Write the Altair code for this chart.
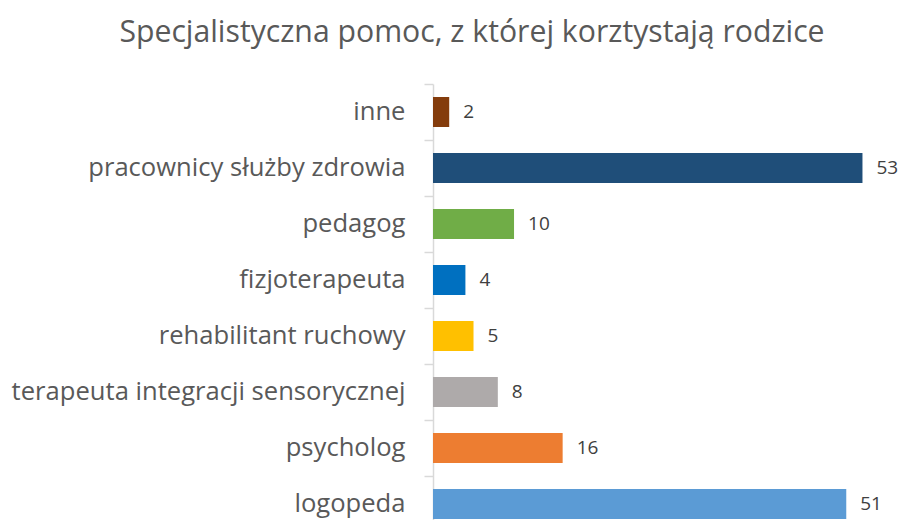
import altair as alt
import pandas as pd

categories = ["inne", "pracownicy służby zdrowia", "pedagog", "fizjoterapeuta",
              "rehabilitant ruchowy", "terapeuta integracji sensorycznej",
              "psycholog", "logopeda"]
values = [2, 53, 10, 4, 5, 8, 16, 51]
colors = ["#843C0C", "#1F4E79", "#70AD47", "#0070C0", "#FFC000", "#AEAAAA",
          "#ED7D31", "#5B9BD5"]

df = pd.DataFrame({"cat": categories, "val": values, "col": colors})

FONT = "Open Sans"

y = alt.Y("cat:N", sort=categories,
          scale=alt.Scale(paddingInner=0, paddingOuter=0, range=[0, 448]),
          axis=alt.Axis(title=None, bandPosition=0, domainColor="#D9D9D9",
                        domainWidth=1.5, tickColor="#D9D9D9", tickWidth=1.5,
                        tickSize=9, labelPadding=19, labelFont=FONT,
                        labelFontSize=25.6, labelColor="#595959", grid=False,
                        labelLimit=500))
x = alt.X("val:Q", scale=alt.Scale(domain=[0, 54.3], nice=False), axis=None)

bars = alt.Chart(df).mark_bar(size=30).encode(
    x=x, y=y, color=alt.Color("col:N", scale=None))
text = alt.Chart(df).mark_text(align="left", baseline="middle", dx=14,
                               font=FONT, fontSize=19, color="#404040").encode(
    x=x, y=alt.Y("cat:N", sort=categories), text="val:Q")

chart = (bars + text).properties(
    width=440, height=436,
    title=alt.TitleParams("Specjalistyczna pomoc, z której korztystają rodzice",
                          font=FONT, fontSize=30.2, fontWeight="normal",
                          color="#595959", anchor="middle", dx=-181,
                          offset=35),
    autosize=alt.AutoSizeParams(type="none"),
    padding={"left": 425, "top": 76, "right": 27, "bottom": 0},
).configure_view(stroke=None)

chart.save("out.html", embed_options={"renderer": "svg", "actions": False})
